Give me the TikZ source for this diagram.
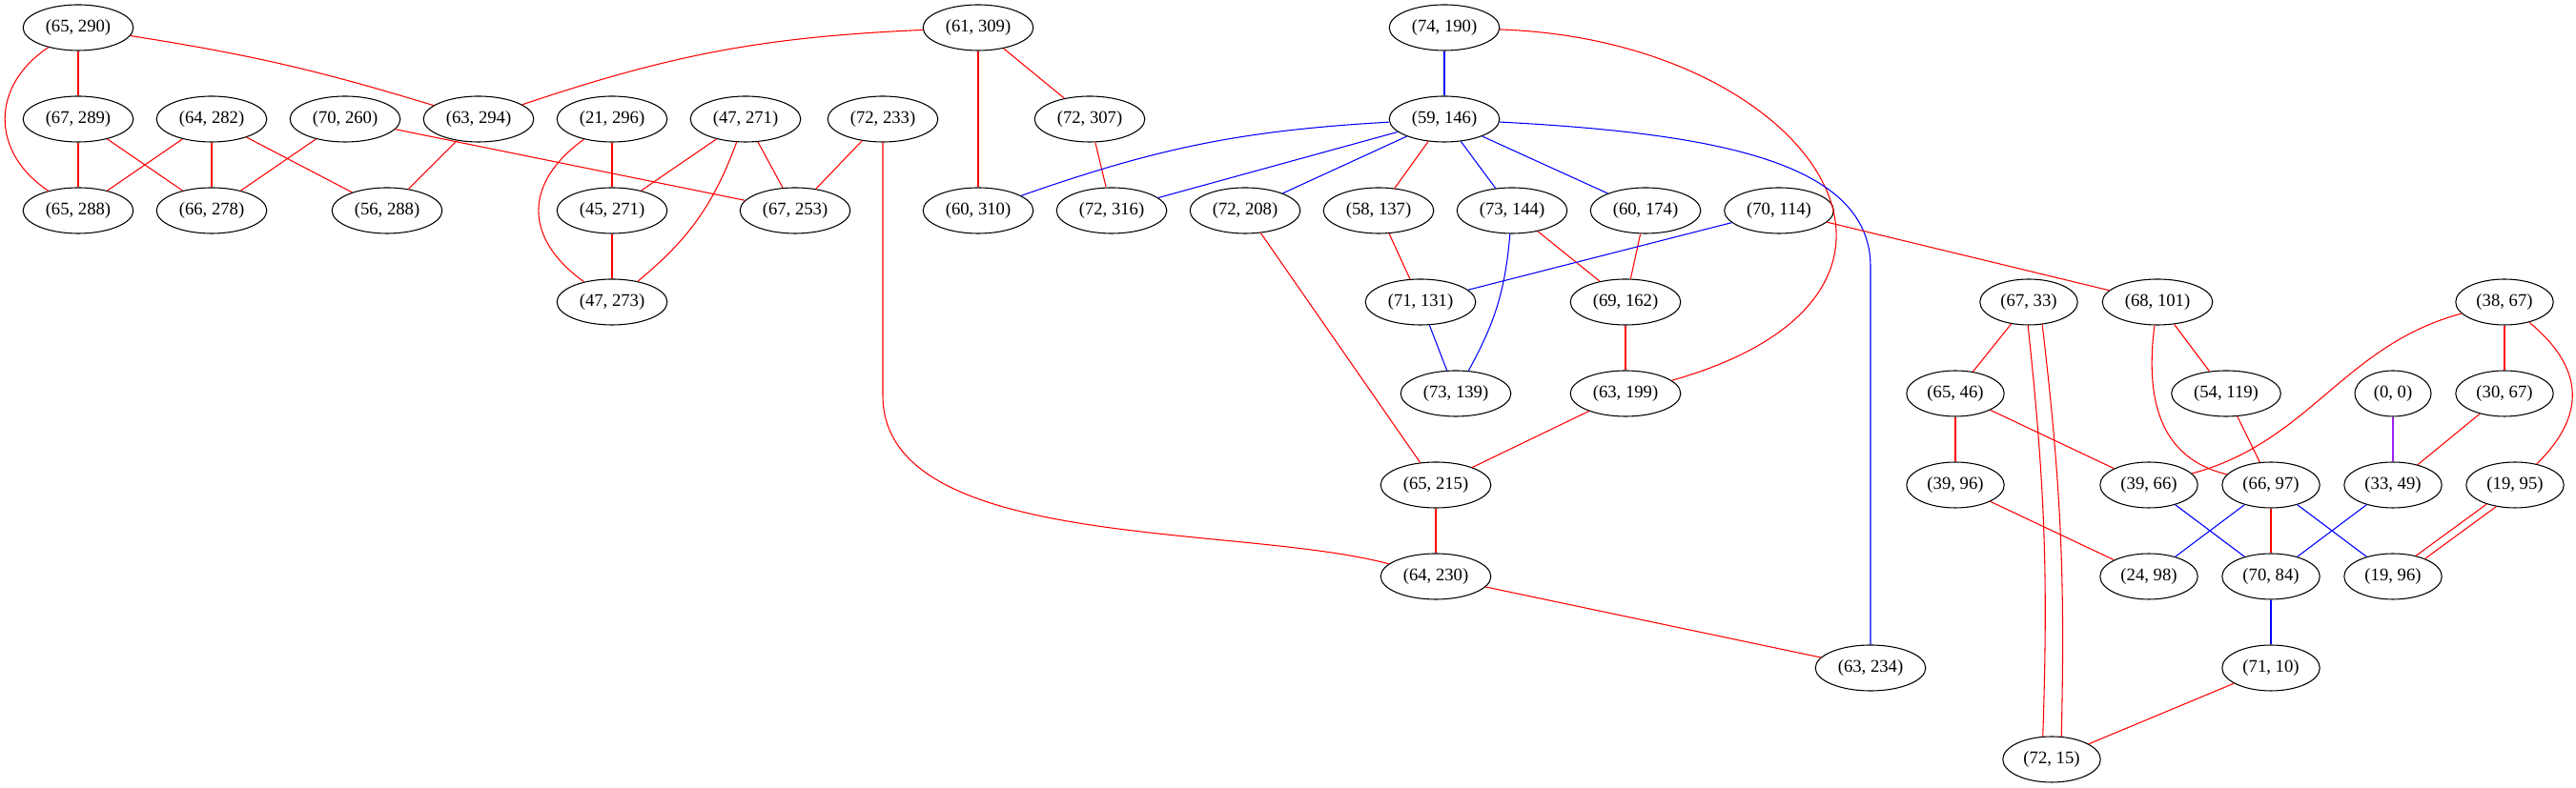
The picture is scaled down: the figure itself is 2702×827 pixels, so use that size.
\documentclass[tikz,border=0pt]{standalone}
\usepackage{fontspec}
\setmainfont{Liberation Serif}
\usepackage{tikz}
\usetikzlibrary{shapes.geometric}
\definecolor{gvpurple}{HTML}{A020F0}
\tikzset{
	vtx/.style={draw, ellipse, line width=0.8pt, inner xsep=5pt, inner ysep=2pt, minimum width=60pt, minimum height=36pt, font=\fontsize{14}{16}\selectfont},
	rd/.style={red, line width=0.8pt},
	bl/.style={blue, line width=0.8pt},
	pp/.style={gvpurple, line width=0.8pt}
}

\begin{document}
\begin{tikzpicture}[x=0.75pt, y=0.75pt]
			\useasboundingbox (0,0) rectangle (2702,827);
			\node[vtx] (n65_290) at (82,798) {(65, 290)};
			\node[vtx] (n61_309) at (1026,798) {(61, 309)};
			\node[vtx] (n74_190) at (1515,798) {(74, 190)};
			\node[vtx] (n67_289) at (82,702) {(67, 289)};
			\node[vtx] (n64_282) at (222,702) {(64, 282)};
			\node[vtx] (n70_260) at (362,702) {(70, 260)};
			\node[vtx] (n63_294) at (502,702) {(63, 294)};
			\node[vtx] (n21_296) at (642,702) {(21, 296)};
			\node[vtx] (n47_271) at (782,702) {(47, 271)};
			\node[vtx] (n72_233) at (926,702) {(72, 233)};
			\node[vtx] (n72_307) at (1143,702) {(72, 307)};
			\node[vtx] (n59_146) at (1515,702) {(59, 146)};
			\node[vtx] (n65_288) at (82,606) {(65, 288)};
			\node[vtx] (n66_278) at (222,606) {(66, 278)};
			\node[vtx] (n56_288) at (406,606) {(56, 288)};
			\node[vtx] (n45_271) at (642,606) {(45, 271)};
			\node[vtx] (n67_253) at (834,606) {(67, 253)};
			\node[vtx] (n60_310) at (1026,606) {(60, 310)};
			\node[vtx] (n72_316) at (1166,606) {(72, 316)};
			\node[vtx] (n72_208) at (1306,606) {(72, 208)};
			\node[vtx] (n58_137) at (1446,606) {(58, 137)};
			\node[vtx] (n73_144) at (1586,606) {(73, 144)};
			\node[vtx] (n60_174) at (1726,606) {(60, 174)};
			\node[vtx] (n70_114) at (1866,606) {(70, 114)};
			\node[vtx] (n47_273) at (642,510) {(47, 273)};
			\node[vtx] (n71_131) at (1490,510) {(71, 131)};
			\node[vtx] (n69_162) at (1705,510) {(69, 162)};
			\node[vtx] (n67_33) at (2128,510) {(67, 33)};
			\node[vtx] (n68_101) at (2263,510) {(68, 101)};
			\node[vtx] (n38_67) at (2627,510) {(38, 67)};
			\node[vtx] (n73_139) at (1527,414) {(73, 139)};
			\node[vtx] (n63_199) at (1705,414) {(63, 199)};
			\node[vtx] (n65_46) at (2051,414) {(65, 46)};
			\node[vtx] (n54_119) at (2335,414) {(54, 119)};
			\node[vtx] (n0_0) at (2510,414) {(0, 0)};
			\node[vtx] (n30_67) at (2627,414) {(30, 67)};
			\node[vtx] (n65_215) at (1506,318) {(65, 215)};
			\node[vtx] (n39_96) at (2051,318) {(39, 96)};
			\node[vtx] (n39_66) at (2254,318) {(39, 66)};
			\node[vtx] (n66_97) at (2382,318) {(66, 97)};
			\node[vtx] (n33_49) at (2510,318) {(33, 49)};
			\node[vtx] (n19_95) at (2638,318) {(19, 95)};
			\node[vtx] (n64_230) at (1506,222) {(64, 230)};
			\node[vtx] (n24_98) at (2254,222) {(24, 98)};
			\node[vtx] (n70_84) at (2382,222) {(70, 84)};
			\node[vtx] (n19_96) at (2510,222) {(19, 96)};
			\node[vtx] (n63_234) at (1962,126) {(63, 234)};
			\node[vtx] (n71_10) at (2382,126) {(71, 10)};
			\node[vtx] (n72_15) at (2152,30) {(72, 15)};
			\coordinate (k72_233) at (926,412);
			\coordinate (k59_146) at (1962,547);
			\draw[rd] (n65_290) -- (n67_289);
			\draw[rd] (n65_290) .. controls (-10,737) and (-10,667) .. (n65_288);
			\draw[rd] (n65_290) to[bend left=4] (n63_294);
			\draw[rd] (n61_309) to[bend right=8] (n63_294);
			\draw[rd] (n61_309) -- (n60_310);
			\draw[rd] (n61_309) -- (n72_307);
			\draw[rd] (n67_289) -- (n65_288);
			\draw[rd] (n67_289) -- (n66_278);
			\draw[rd] (n64_282) -- (n65_288);
			\draw[rd] (n64_282) -- (n66_278);
			\draw[rd] (n64_282) -- (n56_288);
			\draw[rd] (n70_260) -- (n66_278);
			\draw[rd] (n70_260) -- (n67_253);
			\draw[rd] (n63_294) -- (n56_288);
			\draw[rd] (n21_296) -- (n45_271);
			\draw[rd] (n21_296) .. controls (549,635) and (549,577) .. (n47_273);
			\draw[rd] (n47_271) -- (n45_271);
			\draw[rd] (n47_271) to[bend left=15] (n47_273);
			\draw[rd] (n47_271) -- (n67_253);
			\draw[rd] (n45_271) -- (n47_273);
			\draw[rd] (n72_233) -- (n67_253);
			\draw[rd] (n72_233) -- (k72_233) to[out=270, in=165, looseness=0.75] (n64_230);
			\draw[rd] (n72_307) -- (n72_316);
			\draw[bl] (n74_190) -- (n59_146);
			\draw[rd] (n74_190) .. controls (1900,785) and (2080,520) .. (n63_199);
			\draw[bl] (n59_146) to[bend right=8] (n60_310);
			\draw[bl] (n59_146) -- (n72_316);
			\draw[bl] (n59_146) -- (n72_208);
			\draw[rd] (n59_146) -- (n58_137);
			\draw[bl] (n59_146) -- (n73_144);
			\draw[bl] (n59_146) -- (n60_174);
			\draw[bl] (n59_146) .. controls (1800,687) and (1962,657) .. (k59_146) -- (n63_234);
			\draw[rd] (n58_137) -- (n71_131);
			\draw[bl] (n73_144) to[bend left=12] (n73_139);
			\draw[rd] (n73_144) -- (n69_162);
			\draw[rd] (n60_174) -- (n69_162);
			\draw[bl] (n70_114) -- (n71_131);
			\draw[rd] (n70_114) -- (n68_101);
			\draw[bl] (n71_131) -- (n73_139);
			\draw[rd] (n69_162) -- (n63_199);
			\draw[rd] (n63_199) -- (n65_215);
			\draw[rd] (n72_208) -- (n65_215);
			\draw[rd] (n65_215) -- (n64_230);
			\draw[rd] (n64_230) -- (n63_234);
			\draw[rd] (n67_33) -- (n65_46);
			\draw[rd] (n67_33.268) to[bend left=4] (n72_15.111);
			\draw[rd] (n67_33.301) to[bend left=4] (n72_15.67);
			\draw[rd] (n68_101) -- (n54_119);
			\draw[rd] (n68_101) .. controls (2249,400) and (2270,345) .. (n66_97);
			\draw[rd] (n38_67) to[out=195, in=15] (n39_66);
			\draw[rd] (n38_67) -- (n30_67);
			\draw[rd] (n38_67) .. controls (2712,440) and (2712,390) .. (n19_95);
			\draw[rd] (n65_46) -- (n39_96);
			\draw[rd] (n65_46) -- (n39_66);
			\draw[rd] (n54_119) -- (n66_97);
			\draw[pp] (n0_0) -- (n33_49);
			\draw[rd] (n30_67) -- (n33_49);
			\draw[rd] (n39_96) -- (n24_98);
			\draw[bl] (n39_66) -- (n70_84);
			\draw[bl] (n66_97) -- (n24_98);
			\draw[rd] (n66_97) -- (n70_84);
			\draw[bl] (n66_97) -- (n19_96);
			\draw[bl] (n33_49) -- (n70_84);
			\draw[rd] (n19_95.214) -- (n19_96.42);
			\draw[rd] (n19_95.229) -- (n19_96.29);
			\draw[bl] (n70_84) -- (n71_10);
			\draw[rd] (n71_10) -- (n72_15);
		\end{tikzpicture}
\end{document}
